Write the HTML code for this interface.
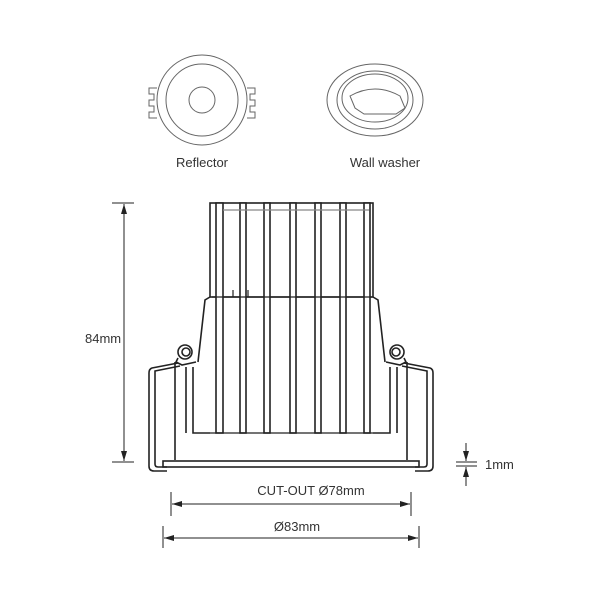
<!DOCTYPE html>
<html><head><style>
html,body{margin:0;padding:0;background:#fff;}
svg{display:block;}
text{font-family:"Liberation Sans",sans-serif;fill:#333;}
</style></head><body>
<svg width="600" height="600" viewBox="0 0 600 600" xmlns="http://www.w3.org/2000/svg">
<defs>
<marker id="a" viewBox="0 0 10 6" refX="10" refY="3" markerWidth="10" markerHeight="6" orient="auto-start-reverse"><path d="M0,0 L10,3 L0,6z" fill="#222"/></marker>
</defs>
<g fill="none" stroke="#666" stroke-width="1">
<circle cx="202" cy="100" r="45"/>
<circle cx="202" cy="100" r="36"/>
<circle cx="202" cy="100" r="13"/>
<path d="M157,88 h-8 v6 h5 v6 h-5 v6 h5 v6 h-5 v6 h8"/>
<path d="M247,88 h8 v6 h-5 v6 h5 v6 h-5 v6 h5 v6 h-8"/>
<ellipse cx="375" cy="100" rx="48" ry="36"/>
<ellipse cx="375" cy="100" rx="38" ry="29"/>
<ellipse cx="375" cy="98" rx="33" ry="24"/>
<path d="M350,96 Q375,82 400,96 L405,108 L396,114 L364,114 L355,108 Z"/>
</g>
<text x="202" y="167" font-size="13" text-anchor="middle">Reflector</text>
<text x="385" y="167" font-size="13" text-anchor="middle">Wall washer</text>

<g fill="none" stroke="#222" stroke-width="1.6">
<rect x="210" y="203" width="163" height="94"/>
<path d="M210,297 L205,300 L198,362"/>
<path d="M373,297 L378,300 L385,362"/>
<path d="M175,362 V460 M407,362 V460"/>
<rect x="163" y="461" width="256" height="6" fill="#fff"/>
<path d="M193,367 V433 H210 M186,367 V433"/>
<path d="M390,367 V433 H373 M397,367 V433"/>
<path d="M178,363 L152,368 Q149,369 149,373 V466 Q149,471 154,471 H167"/>
<path d="M180,366 L155,371 V464 Q155,467 158,467 H167"/>
<path d="M404,363 L430,368 Q433,369 433,373 V466 Q433,471 428,471 H415"/>
<path d="M402,366 L427,371 V464 Q427,467 424,467 H415"/>
<circle cx="185" cy="352" r="7"/><circle cx="186" cy="352" r="4"/>
<circle cx="397" cy="352" r="7"/><circle cx="396" cy="352" r="4"/>
<path d="M178,358 L176,362 L182,365 L196,362"/>
<path d="M404,358 L406,362 L400,365 L386,362"/>
</g>
<g fill="#fff" stroke="#222" stroke-width="1.6">
<rect x="216" y="203" width="7" height="230"/>
<rect x="240" y="203" width="6" height="230"/>
<rect x="264" y="203" width="6" height="230"/>
<rect x="290" y="203" width="6" height="230"/>
<rect x="315" y="203" width="6" height="230"/>
<rect x="340" y="203" width="6" height="230"/>
<rect x="364" y="203" width="6" height="230"/>
</g>
<g stroke="#222" stroke-width="1.2">
<line x1="212" y1="297" x2="372" y2="297"/>
<line x1="223" y1="210" x2="369" y2="210" stroke="#888"/>
<line x1="210" y1="433" x2="373" y2="433"/>
<line x1="233" y1="290" x2="233" y2="297"/><line x1="248" y1="290" x2="248" y2="297"/>
</g>

<g stroke="#222" stroke-width="1" fill="none">
<line x1="112" y1="203" x2="134" y2="203"/>
<line x1="112" y1="462" x2="134" y2="462"/>
<line x1="124" y1="204" x2="124" y2="461" marker-start="url(#a)" marker-end="url(#a)"/>
<line x1="171" y1="492" x2="171" y2="516"/>
<line x1="411" y1="492" x2="411" y2="516"/>
<line x1="172" y1="504" x2="410" y2="504" marker-start="url(#a)" marker-end="url(#a)"/>
<line x1="163" y1="526" x2="163" y2="548"/>
<line x1="419" y1="526" x2="419" y2="548"/>
<line x1="164" y1="538" x2="418" y2="538" marker-start="url(#a)" marker-end="url(#a)"/>
<line x1="456" y1="462" x2="477" y2="462"/>
<line x1="456" y1="466" x2="477" y2="466"/>
<line x1="466" y1="443" x2="466" y2="461" marker-end="url(#a)"/>
<line x1="466" y1="486" x2="466" y2="467" marker-end="url(#a)"/>
</g>
<text x="85" y="343" font-size="13">84mm</text>
<text x="311" y="495" font-size="13" text-anchor="middle">CUT-OUT Ø78mm</text>
<text x="297" y="531" font-size="13" text-anchor="middle">Ø83mm</text>
<text x="485" y="469" font-size="13">1mm</text>
</svg>
</body></html>
